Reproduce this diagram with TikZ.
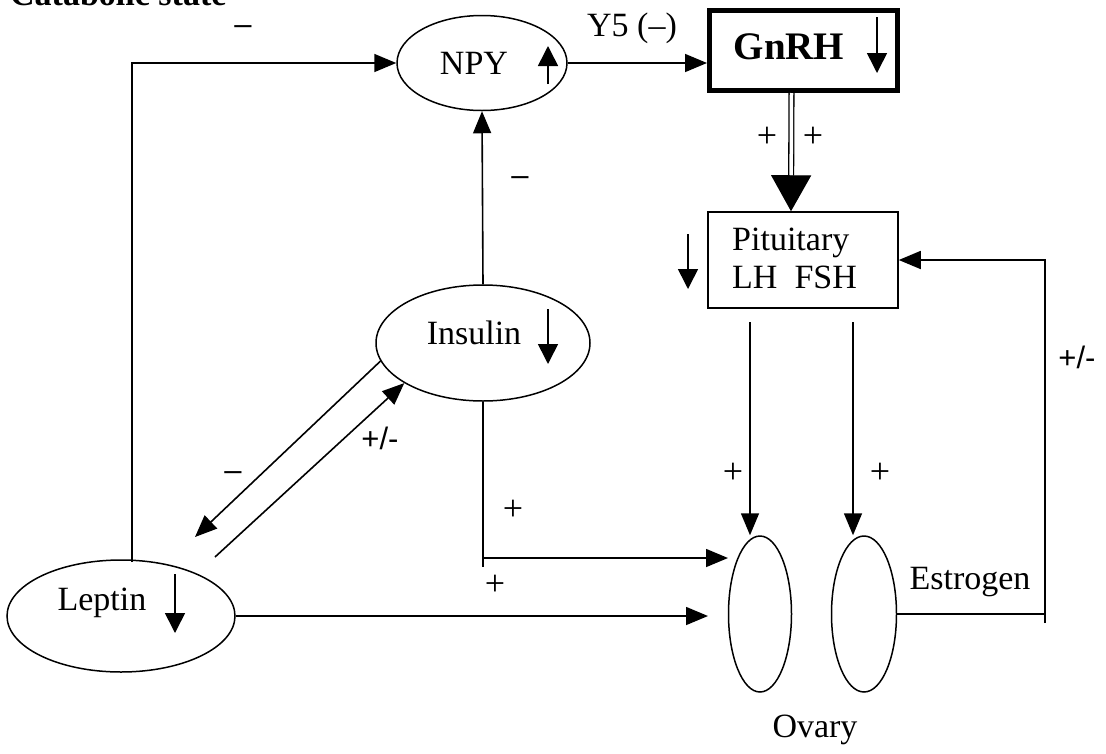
\documentclass[tikz,border=0pt]{standalone}
\usepackage{fontspec}
\setmainfont{Liberation Serif}
\newfontfamily\lsans{Liberation Sans}
\usetikzlibrary{arrows.meta,shapes.geometric,calc}
\tikzset{
  ell/.style={draw, ellipse, line width=1.5pt, inner sep=0pt},
  conn/.style={line width=1.6pt},
  arr/.style={conn, -{Triangle[length=22pt,width=18pt]}},
  sym/.style={line width=1.6pt, -{Triangle[length=20pt,width=20pt]}},
  lbl/.style={font=\fontsize{34}{40}\selectfont, inner sep=0pt},
  plus/.style={font=\fontsize{36}{40}\selectfont, inner sep=0pt},
  pm/.style={font=\lsans\fontsize{31}{34}\selectfont, inner sep=0pt}
}
\begin{document}
\begin{tikzpicture}[x=1pt,y=-1pt]
\useasboundingbox (0,0) rectangle (1106,753);
\fill[white] (0,0) rectangle (1106,753);
% title (cut off at top, as in the reference)
\node[anchor=base west, font=\bfseries\fontsize{34}{40}\selectfont, inner sep=0pt] (title) at (10,5) {Catabolic state};
% ellipses
\node[ell, minimum width=170pt, minimum height=95pt] (npy) at (482,63) {};
\node[ell, minimum width=214pt, minimum height=116pt] (ins) at (483,343) {};
\node[ell, minimum width=228pt, minimum height=112pt] (lep) at (121,616) {};
\node[ell, minimum width=63pt, minimum height=156pt] (ov1) at (760,614) {};
\node[ell, minimum width=65pt, minimum height=156pt] (ov2) at (864,614) {};
% boxes
\node[draw, line width=5pt, minimum width=188pt, minimum height=80pt, inner sep=0pt] (gnrh) at (803.5,50.5) {};
\node[draw, line width=1.5pt, minimum width=190pt, minimum height=96pt, inner sep=0pt] (pit) at (803,260) {};
% texts in nodes
\node[lbl] (tnpy) at (474,63) {NPY};
\node[lbl, font=\bfseries\fontsize{39}{44}\selectfont] (tgnrh) at (789,47) {GnRH};
\node[lbl, anchor=west] (tpit1) at (732,243) {Pituitary};
\node[lbl, anchor=west] (tpit2) at (732,277) {LH\enspace FSH};
\node[lbl] (tins) at (474,333) {Insulin};
\node[lbl] (tlep) at (102,603) {Leptin};
\node[lbl] (test) at (970,582) {Estrogen};
\node[lbl] (tova) at (815,730) {Ovary};
% symbol arrows
\draw[sym] (548,84) -- (548,46);
\draw[sym] (877,17) -- (877,73);
\draw[sym] (688,234) -- (688,289);
\draw[sym] (548,309) -- (548,364);
\draw[sym] (175,574) -- (175,633);
% coordinates
\coordinate (lepTop) at (132,562);
\coordinate (d1e) at (195,537);
\coordinate (d2s) at (215,557);
\coordinate (insB) at (483,567);
\coordinate (insT) at (728,558);
\coordinate (lepT) at (708,612);
\coordinate (p1) at (750,322);
\coordinate (p2) at (853,322);
\coordinate (e1) at (1045,623);
% connectors
\draw[arr] (lepTop) |- (npy.west);
\draw[arr] (npy.east) -- (npy.east -| gnrh.west);
\draw[line width=1.3pt, double, double distance=3.5pt, -{Triangle[length=36pt,width=40pt]}] ([xshift=-12pt]gnrh.south) -- ([xshift=-12pt]pit.north);
\draw[arr] (ins.north) -- (npy.south);
\draw[arr] (ins.190) -- (d1e);
\draw[arr] (d2s) -- (ins.207);
\draw[conn] (ins.south) -- (insB);
\draw[arr] (insB |- insT) -- (insT);
\draw[arr] (lep.east) -- (lep.east -| lepT);
\draw[arr] (p1) -- (p1 |- ov1.north);
\draw[arr] (p2) -- (p2 |- ov2.north);
\draw[conn] (ov2.east) -- (ov2.east -| e1);
\draw[arr] (e1) |- (pit.east);
% labels
\node[pm] (l1) at (243,30) {\textendash};
\node[lbl] (l2) at (632,28) {Y5 (\textendash)};
\node[plus] (l3) at (767,137) {+};
\node[plus] (l4) at (813,137) {+};
\node[pm] (l5) at (520,181) {\textendash};
\node[pm] (l6) at (233,476) {\textendash};
\node[pm] (l7) at (380,438) {+/-};
\node[plus] (l8) at (513,510) {+};
\node[plus] (l9) at (495,585) {+};
\node[plus] (l10) at (733,473) {+};
\node[plus] (l11) at (880,473) {+};
\node[pm] (l12) at (1077,357) {+/-};
\end{tikzpicture}
\end{document}
